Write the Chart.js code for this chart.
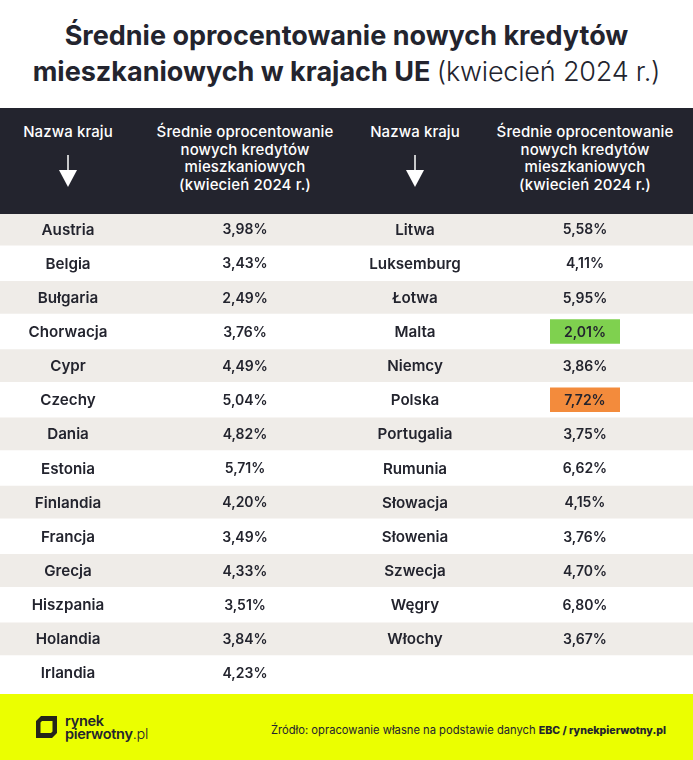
<!DOCTYPE html>
<html lang="pl">
<head>
<meta charset="utf-8">
<title>Średnie oprocentowanie nowych kredytów</title>
<script src="https://cdn.jsdelivr.net/npm/chart.js@4"></script>
<style>
  html, body { margin: 0; padding: 0; background: #fff; }
  body { position: relative; width: 693px; height: 760px; overflow: hidden; font-family: Inter, sans-serif; color: #23242e; }
  .abs { position: absolute; }
  #title { left: 0; top: 18px; width: 693px; text-align: center; font-size: 27px; line-height: 35.5px; font-weight: 700; white-space: nowrap; }
  #title span { font-weight: 300; letter-spacing: -0.2px; }
  #head { left: 0; top: 108px; width: 693px; height: 106px; background: #23242e; }
  .hd { color: #fff; text-align: center; font-size: 15px; line-height: 17.7px; font-weight: 500; top: 15px; white-space: nowrap; transform: translateX(-50%); letter-spacing: 0.1px; }
  #foot { left: 0; top: 694px; width: 693px; height: 66px; background: #ebff00; }
  #src { right: 27px; top: 29px; font-size: 11.2px; white-space: nowrap; }
  #src b { font-weight: 800; font-size: 10.6px; }
  #logo { left: 65px; top: 20px; font-size: 14.5px; line-height: 13px; font-weight: 600; letter-spacing: -0.3px; white-space: nowrap; }
  #logo span { font-weight: 300; }
  canvas { position: absolute; left: 0; top: 212px; }
</style>
</head>
<body>
<div class="abs" id="title">Średnie oprocentowanie nowych kredytów<br>mieszkaniowych w krajach UE <span>(kwiecień 2024 r.)</span></div>
<canvas id="tableChart" width="693" height="478"></canvas>
<div class="abs" id="head">
  <div class="abs hd" style="left:68px">Nazwa kraju</div>
  <svg class="abs" style="left:58px;top:47px" width="20" height="33"><path d="M10 0V17" stroke="#fff" stroke-width="1.5"/><path d="M1 15H19L10 32Z" fill="#fff"/></svg>
  <div class="abs hd" style="left:245px">Średnie oprocentowanie<br>nowych kredytów<br>mieszkaniowych<br>(kwiecień 2024 r.)</div>
  <div class="abs hd" style="left:415px">Nazwa kraju</div>
  <svg class="abs" style="left:405px;top:47px" width="20" height="33"><path d="M10 0V17" stroke="#fff" stroke-width="1.5"/><path d="M1 15H19L10 32Z" fill="#fff"/></svg>
  <div class="abs hd" style="left:585px">Średnie oprocentowanie<br>nowych kredytów<br>mieszkaniowych<br>(kwiecień 2024 r.)</div>
</div>
<div class="abs" id="foot">
  <svg class="abs" style="left:36px;top:22px" width="21" height="22"><path d="M5 0H21V17L16 22H0V5Z M6 5L4.5 6.5V17H15L16.5 15.5V5Z" fill="#23241a" fill-rule="evenodd"/></svg>
  <div class="abs" id="logo">rynek<br>pierwotny<span>.pl</span></div>
  <div class="abs" id="src">Źródło: opracowanie własne na podstawie danych <b>EBC / rynekpierwotny.pl</b></div>
</div>
<script>
// dane z tabeli
const countriesLeft = ["Austria", "Belgia", "Bułgaria", "Chorwacja", "Cypr", "Czechy", "Dania", "Estonia", "Finlandia", "Francja", "Grecja", "Hiszpania", "Holandia", "Irlandia"];
const ratesLeft = [3.98, 3.43, 2.49, 3.76, 4.49, 5.04, 4.82, 5.71, 4.20, 3.49, 4.33, 3.51, 3.84, 4.23];
const countriesRight = ["Litwa", "Luksemburg", "Łotwa", "Malta", "Niemcy", "Polska", "Portugalia", "Rumunia", "Słowacja", "Słowenia", "Szwecja", "Węgry", "Włochy"];
const ratesRight = [5.58, 4.11, 5.95, 2.01, 3.86, 7.72, 3.75, 6.62, 4.15, 3.76, 4.70, 6.80, 3.67];

// uklad kolumn na osi x
const columnX = [68, 245, 415, 585];
const cellHalf = 35;
const pageWidth = 693;

const rowIds = countriesLeft.map(function (c, i) { return String(i); });
const minRate = Math.min(...ratesLeft, ...ratesRight);
const maxRate = Math.max(...ratesLeft, ...ratesRight);

function highlightBars(rate) {
    const row = ratesRight.indexOf(rate);
    return [{ x: [columnX[3] - cellHalf, columnX[3] + cellHalf], y: rowIds[row] }];
}

function fmt(v) {
    return v.toFixed(2).replace(".", ",") + "%";
}

// rysuje tekst komorek w pozycjach ze skal
const cellText = {
    id: "cellText",
    afterDatasetsDraw: function (chart) {
        const c = chart.ctx;
        const xs = chart.scales.x;
        const ys = chart.scales.y;
        c.save();
        c.textAlign = "center";
        c.textBaseline = "middle";
        c.fillStyle = "#23242e";
        function column(col, values, font) {
            c.font = font;
            values.forEach(function (t, i) {
                c.fillText(t, xs.getPixelForValue(columnX[col]), ys.getPixelForValue(i) + 1);
            });
        }
        column(0, countriesLeft, "600 15.2px Inter");
        column(1, ratesLeft.map(fmt), "600 14px Inter");
        column(2, countriesRight, "600 15.2px Inter");
        column(3, ratesRight.map(fmt), "600 14px Inter");
        c.restore();
    }
};

new Chart(document.getElementById("tableChart").getContext("2d"), {
    type: "bar",
    data: {
        labels: rowIds,
        datasets: [
            {
                label: "pasy",
                data: rowIds.filter(function (r, i) { return i % 2 === 0 && i < 13; }).map(function (r) { return { x: [0, pageWidth], y: r }; }),
                backgroundColor: "#efece8",
                barPercentage: 1,
                categoryPercentage: 0.96,
                grouped: false,
                order: 3
            },
            {
                label: "min",
                data: highlightBars(minRate),
                backgroundColor: "#7fd14f",
                barPercentage: 1,
                categoryPercentage: 0.72,
                grouped: false,
                order: 1
            },
            {
                label: "max",
                data: highlightBars(maxRate),
                backgroundColor: "#f38b3c",
                barPercentage: 1,
                categoryPercentage: 0.72,
                grouped: false,
                order: 1
            }
        ]
    },
    options: {
        indexAxis: "y",
        responsive: false,
        animation: false,
        parsing: { xAxisKey: "x", yAxisKey: "y" },
        layout: { padding: 0 },
        plugins: { legend: { display: false }, tooltip: { enabled: false } },
        scales: {
            x: { type: "linear", min: 0, max: pageWidth, display: false },
            y: { type: "category", display: false, offset: true }
        }
    },
    plugins: [cellText]
});
</script>
</body>
</html>
